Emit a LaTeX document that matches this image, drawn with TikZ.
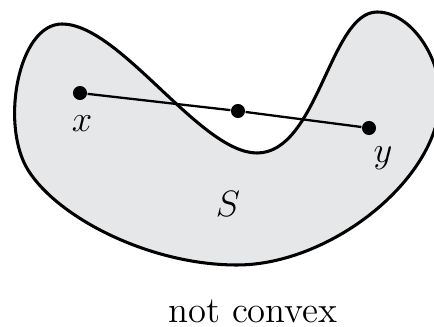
\documentclass[tikz,border=0pt]{standalone}
\usepackage{amsmath}
\usepackage{tikz}
\definecolor{setgray}{RGB}{230,231,232}
\tikzset{
  dot/.style={circle, fill=black, inner sep=0pt, minimum size=4.6pt},
  lbl/.style={inner sep=0pt, font=\large}
}
\begin{document}
\begin{tikzpicture}[x=0.0115cm, y=-0.0115cm]
\useasboundingbox (0,0) rectangle (434,327);

% the set S
\draw[line width=1pt, fill=setgray] (62,24) .. controls (120,24) and (200,153) .. (257,153)
  .. controls (318,153) and (330,12) .. (377,12)
  .. controls (412,12) and (442,60) .. (440,100)
  .. controls (438,180) and (330,265) .. (237,265)
  .. controls (150,265) and (58,218) .. (28,170)
  .. controls (0,125) and (18,24) .. (62,24) -- cycle;

\node[dot] (px) at (80,93) {};
\node[dot] (pm) at (238,111) {};
\node[dot] (py) at (369,128) {};
\draw[line width=0.75pt] (px) -- (pm) -- (py);

\node[lbl] (lx) at (82,124) {$x$};
\node[lbl] (ly) at (383,158) {$y$};
\node[lbl] (ls) at (228,204) {$S$};
\node[lbl] (cap) at (253,311) {not convex};

\end{tikzpicture}
\end{document}
